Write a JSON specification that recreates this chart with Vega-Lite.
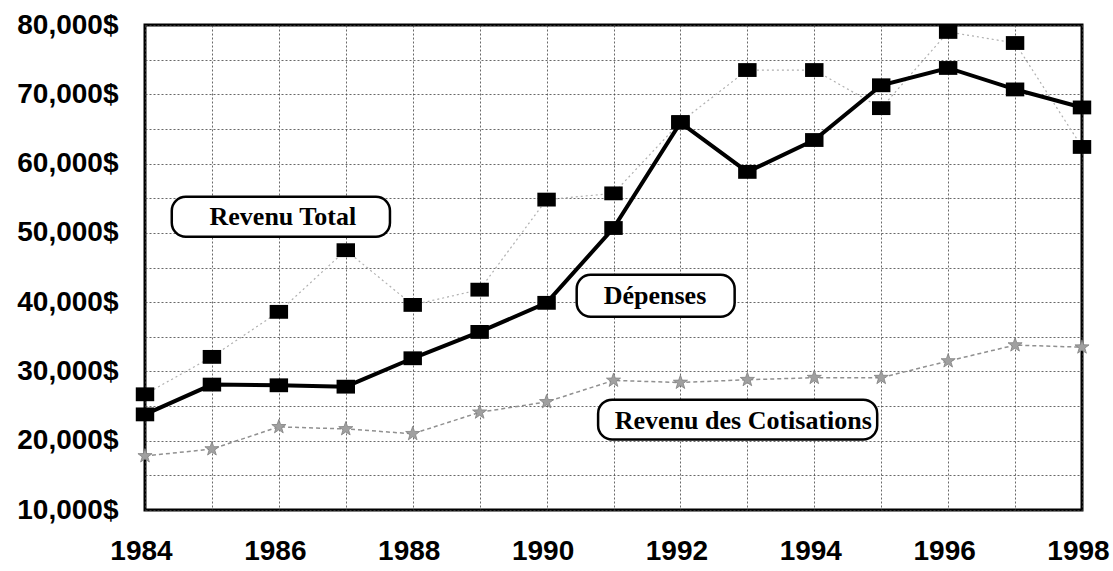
{
  "$schema": "https://vega.github.io/schema/vega-lite/v6.json",
  "width": 937,
  "height": 485,
  "autosize": "none",
  "padding": {"left": 145, "top": 25, "right": 31, "bottom": 61},
  "background": "white",
  "config": {
    "view": {"stroke": "black", "strokeWidth": 3},
    "axis": {
      "domain": false,
      "ticks": false,
      "grid": true,
      "gridColor": "#444",
      "gridDash": [2, 2],
      "gridWidth": 1,
      "gridOpacity": 0.8,
      "labelFont": "Liberation Sans",
      "labelFontWeight": "bold",
      "labelColor": "black",
      "title": null
    }
  },
  "datasets": {
    "series": [
      {"year": 1984, "serie": "Dépenses", "value": 23800},
      {"year": 1985, "serie": "Dépenses", "value": 28100},
      {"year": 1986, "serie": "Dépenses", "value": 28000},
      {"year": 1987, "serie": "Dépenses", "value": 27800},
      {"year": 1988, "serie": "Dépenses", "value": 31900},
      {"year": 1989, "serie": "Dépenses", "value": 35700},
      {"year": 1990, "serie": "Dépenses", "value": 39900},
      {"year": 1991, "serie": "Dépenses", "value": 50700},
      {"year": 1992, "serie": "Dépenses", "value": 65900},
      {"year": 1993, "serie": "Dépenses", "value": 58800},
      {"year": 1994, "serie": "Dépenses", "value": 63400},
      {"year": 1995, "serie": "Dépenses", "value": 71300},
      {"year": 1996, "serie": "Dépenses", "value": 73800},
      {"year": 1997, "serie": "Dépenses", "value": 70700},
      {"year": 1998, "serie": "Dépenses", "value": 68100},
      {"year": 1984, "serie": "Revenu Total", "value": 26700},
      {"year": 1985, "serie": "Revenu Total", "value": 32100},
      {"year": 1986, "serie": "Revenu Total", "value": 38600},
      {"year": 1987, "serie": "Revenu Total", "value": 47500},
      {"year": 1988, "serie": "Revenu Total", "value": 39600},
      {"year": 1989, "serie": "Revenu Total", "value": 41800},
      {"year": 1990, "serie": "Revenu Total", "value": 54800},
      {"year": 1991, "serie": "Revenu Total", "value": 55700},
      {"year": 1992, "serie": "Revenu Total", "value": 66000},
      {"year": 1993, "serie": "Revenu Total", "value": 73500},
      {"year": 1994, "serie": "Revenu Total", "value": 73500},
      {"year": 1995, "serie": "Revenu Total", "value": 68000},
      {"year": 1996, "serie": "Revenu Total", "value": 79000},
      {"year": 1997, "serie": "Revenu Total", "value": 77400},
      {"year": 1998, "serie": "Revenu Total", "value": 62400},
      {"year": 1984, "serie": "Revenu des Cotisations", "value": 17800},
      {"year": 1985, "serie": "Revenu des Cotisations", "value": 18800},
      {"year": 1986, "serie": "Revenu des Cotisations", "value": 22000},
      {"year": 1987, "serie": "Revenu des Cotisations", "value": 21700},
      {"year": 1988, "serie": "Revenu des Cotisations", "value": 21000},
      {"year": 1989, "serie": "Revenu des Cotisations", "value": 24100},
      {"year": 1990, "serie": "Revenu des Cotisations", "value": 25600},
      {"year": 1991, "serie": "Revenu des Cotisations", "value": 28700},
      {"year": 1992, "serie": "Revenu des Cotisations", "value": 28400},
      {"year": 1993, "serie": "Revenu des Cotisations", "value": 28800},
      {"year": 1994, "serie": "Revenu des Cotisations", "value": 29100},
      {"year": 1995, "serie": "Revenu des Cotisations", "value": 29100},
      {"year": 1996, "serie": "Revenu des Cotisations", "value": 31500},
      {"year": 1997, "serie": "Revenu des Cotisations", "value": 33800},
      {"year": 1998, "serie": "Revenu des Cotisations", "value": 33500}
    ],
    "labels": [
      {"label": "Revenu Total", "x1": 1984.40, "x2": 1987.66, "y1": 55200, "y2": 49430, "xt": 1986.06, "yt": 52300},
      {"label": "Dépenses", "x1": 1990.45, "x2": 1992.81, "y1": 43950, "y2": 37900, "xt": 1991.62, "yt": 40930},
      {"label": "Revenu des Cotisations", "x1": 1990.77, "x2": 1994.94, "y1": 25930, "y2": 20170, "xt": 1992.94, "yt": 22900}
    ]
  },
  "encoding": {
    "x": {
      "field": "year",
      "type": "quantitative",
      "scale": {"domain": [1984, 1998], "nice": false, "zero": false},
      "axis": {
        "values": [1984, 1985, 1986, 1987, 1988, 1989, 1990, 1991, 1992, 1993, 1994, 1995, 1996, 1997, 1998],
        "labelExpr": "datum.value % 2 == 0 ? '' + datum.value : ''",
        "labelFontSize": 28,
        "labelPadding": 27,
        "labelOffset": -4,
        "labelFlush": false,
        "labelOverlap": false
      }
    },
    "y": {
      "field": "value",
      "type": "quantitative",
      "scale": {"domain": [10000, 80000], "nice": false, "zero": false},
      "axis": {
        "values": [10000, 15000, 20000, 25000, 30000, 35000, 40000, 45000, 50000, 55000, 60000, 65000, 70000, 75000, 80000],
        "labelExpr": "datum.value % 10000 == 0 ? format(datum.value, ',') + '$' : ''",
        "labelFontSize": 28,
        "labelPadding": 27,
        "labelFlush": false,
        "labelOverlap": false
      }
    }
  },
  "layer": [
    {
      "data": {"name": "series"},
      "transform": [{"filter": "datum.serie == 'Revenu Total'"}],
      "mark": {"type": "line", "color": "#b0b0b0", "strokeWidth": 1.2, "strokeDash": [2, 3]}
    },
    {
      "data": {"name": "series"},
      "transform": [{"filter": "datum.serie == 'Revenu des Cotisations'"}],
      "mark": {"type": "line", "color": "#909090", "strokeWidth": 1.5, "strokeDash": [4, 3]}
    },
    {
      "data": {"name": "series"},
      "transform": [{"filter": "datum.serie == 'Dépenses'"}],
      "mark": {"type": "line", "color": "black", "strokeWidth": 4}
    },
    {
      "data": {"name": "series"},
      "transform": [{"filter": "datum.serie != 'Revenu des Cotisations'"}],
      "mark": {"type": "point", "shape": "M-1,-0.75L1,-0.75L1,0.75L-1,0.75Z", "filled": true, "color": "black", "size": 340, "opacity": 1}
    },
    {
      "data": {"name": "series"},
      "transform": [{"filter": "datum.serie == 'Revenu des Cotisations'"}],
      "mark": {"type": "point", "shape": "M0,-1L0.235,-0.324L0.951,-0.309L0.380,0.124L0.588,0.809L0,0.4L-0.588,0.809L-0.380,0.124L-0.951,-0.309L-0.235,-0.324Z", "filled": true, "color": "#a0a0a0", "stroke": "#808080", "strokeWidth": 0.8, "size": 220, "opacity": 1}
    },
    {
      "data": {"name": "labels"},
      "mark": {"type": "rect", "fill": "white", "stroke": "black", "strokeWidth": 2.5, "cornerRadius": 14},
      "encoding": {
        "x": {"field": "x1", "type": "quantitative"},
        "x2": {"field": "x2"},
        "y": {"field": "y1", "type": "quantitative"},
        "y2": {"field": "y2"}
      }
    },
    {
      "data": {"name": "labels"},
      "mark": {"type": "text", "font": "Liberation Serif", "fontWeight": "bold", "fontSize": 26, "color": "black", "align": "center", "baseline": "middle"},
      "encoding": {
        "x": {"field": "xt", "type": "quantitative"},
        "y": {"field": "yt", "type": "quantitative"},
        "text": {"field": "label"}
      }
    }
  ]
}
